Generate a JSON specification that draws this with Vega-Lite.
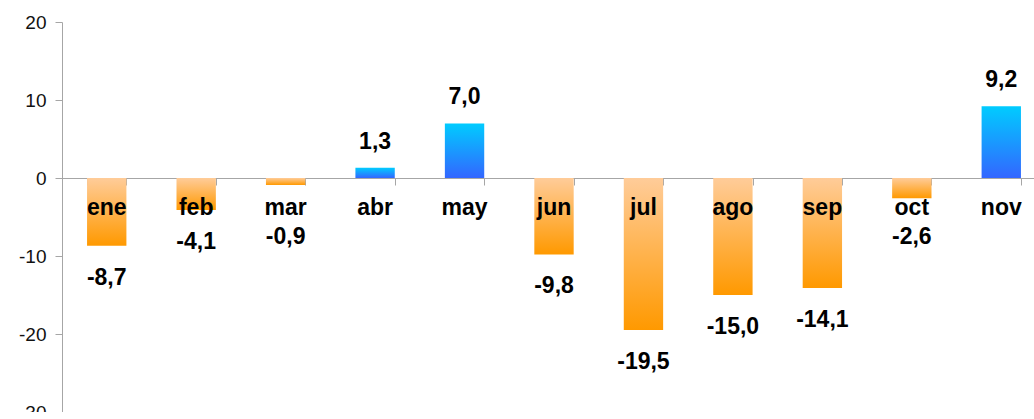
{
  "$schema": "https://vega.github.io/schema/vega-lite/v6.json",
  "autosize": "none",
  "width": 984,
  "height": 390,
  "padding": {"left": 62, "top": 22, "right": 0, "bottom": 0},
  "background": "white",
  "config": {
    "view": {"stroke": null},
    "locale": {"number": {"decimal": ",", "thousands": ".", "grouping": [3], "currency": ["", " €"], "minus": "-"}},
    "font": "Liberation Sans"
  },
  "data": {
    "values": [
      {"month": "ene", "value": -8.7},
      {"month": "feb", "value": -4.1},
      {"month": "mar", "value": -0.9},
      {"month": "abr", "value": 1.3},
      {"month": "may", "value": 7.0},
      {"month": "jun", "value": -9.8},
      {"month": "jul", "value": -19.5},
      {"month": "ago", "value": -15.0},
      {"month": "sep", "value": -14.1},
      {"month": "oct", "value": -2.6},
      {"month": "nov", "value": 9.2}
    ]
  },
  "encoding": {
    "x": {
      "field": "month",
      "type": "nominal",
      "sort": null,
      "scale": {
        "domain": ["ene", "feb", "mar", "abr", "may", "jun", "jul", "ago", "sep", "oct", "nov"],
        "paddingInner": 0.56,
        "paddingOuter": 0.28
      },
      "axis": {
        "title": null,
        "labels": false,
        "tickBand": "extent",
        "domainColor": "#A6A6A6",
        "tickColor": "#A6A6A6",
        "tickSize": 7,
        "offset": -234
      }
    }
  },
  "layer": [
    {
      "transform": [{"filter": "datum.value < 0"}],
      "mark": {
        "type": "bar",
        "color": {
          "gradient": "linear", "x1": 0, "y1": 0, "x2": 0, "y2": 1,
          "stops": [{"offset": 0, "color": "#FFCC99"}, {"offset": 1, "color": "#FF9900"}]
        }
      },
      "encoding": {
        "y": {
          "field": "value",
          "type": "quantitative",
          "scale": {"domain": [-30, 20], "nice": false},
          "axis": {
            "title": null,
            "values": [-30, -20, -10, 0, 10, 20],
            "format": "d",
            "grid": false,
            "domainColor": "#A6A6A6",
            "tickColor": "#A6A6A6",
            "tickSize": 7,
            "labelPadding": 9,
            "labelFontSize": 19,
            "labelColor": "#111111",
            "labelFont": "Liberation Sans"
          }
        }
      }
    },
    {
      "transform": [{"filter": "datum.value >= 0"}],
      "mark": {
        "type": "bar",
        "color": {
          "gradient": "linear", "x1": 0, "y1": 0, "x2": 0, "y2": 1,
          "stops": [{"offset": 0, "color": "#00CCFF"}, {"offset": 1, "color": "#3366FF"}]
        }
      },
      "encoding": {"y": {"field": "value", "type": "quantitative"}}
    },
    {
      "mark": {"type": "text", "fontSize": 23, "fontWeight": "bold", "color": "#000000", "baseline": "alphabetic", "dy": 37},
      "encoding": {
        "y": {"datum": 0, "type": "quantitative"},
        "text": {"field": "month"}
      }
    },
    {
      "transform": [{"filter": "datum.value <= -3"}],
      "mark": {"type": "text", "fontSize": 23, "fontWeight": "bold", "color": "#000000", "baseline": "alphabetic", "dy": 39},
      "encoding": {
        "y": {"field": "value", "type": "quantitative"},
        "text": {"field": "value", "format": ".1f"}
      }
    },
    {
      "transform": [{"filter": "datum.value < 0 && datum.value > -3"}],
      "mark": {"type": "text", "fontSize": 23, "fontWeight": "bold", "color": "#000000", "baseline": "alphabetic", "dy": 66},
      "encoding": {
        "y": {"datum": 0, "type": "quantitative"},
        "text": {"field": "value", "format": ".1f"}
      }
    },
    {
      "transform": [{"filter": "datum.value >= 0"}],
      "mark": {"type": "text", "fontSize": 23, "fontWeight": "bold", "color": "#000000", "baseline": "alphabetic", "dy": -19},
      "encoding": {
        "y": {"field": "value", "type": "quantitative"},
        "text": {"field": "value", "format": ".1f"}
      }
    }
  ]
}
